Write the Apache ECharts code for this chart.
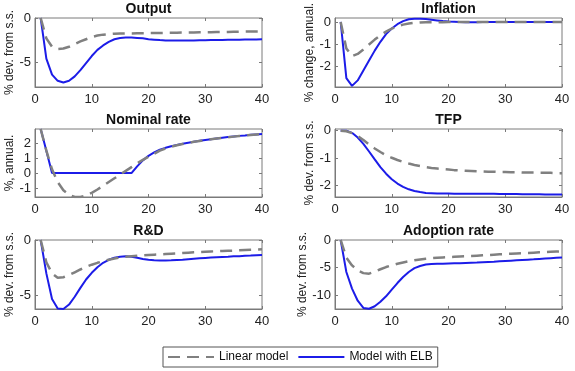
<!DOCTYPE html>
<html><head><meta charset="utf-8">
<script src="https://cdn.jsdelivr.net/npm/echarts@6/dist/echarts.min.js"></script>
<style>html,body{margin:0;padding:0;background:#fff}#c{width:575px;height:371px}</style>
</head><body><div id="c"></div>
<script>
const periods = [1,2,3,4,5,6,7,8,9,10,11,12,13,14,15,16,17,18,19,20,21,22,23,24,25,26,27,28,29,30,31,32,33,34,35,36,37,38,39,40];
const panelTitles = ['Output','Inflation','Nominal rate','TFP','R&D','Adoption rate'];
const yNames = ['% dev. from s.s.','% change, annual.','%, annual.','% dev. from s.s.','% dev. from s.s.','% dev. from s.s.'];
const seriesNames = ['Linear model','Model with ELB'];
const xTickValues = [0,10,20,30,40];
const yTickValues = [[-5,0],[-2,-1,0],[-1,0,1,2],[-2,-1,0],[-5,0],[-10,-5,0]];
const yMins = [-7.8,-2.95,-1.6,-2.42,-6.2,-12.5];
const yMaxs = [0,0.18,2.95,0.06,0,0];

const outputLinear = [0,-2.3,-3.25,-3.5,-3.45,-3.25,-2.95,-2.65,-2.4,-2.15,-1.98,-1.88,-1.82,-1.78,-1.76,-1.75,-1.74,-1.73,-1.72,-1.71,-1.7,-1.69,-1.68,-1.67,-1.66,-1.65,-1.64,-1.63,-1.62,-1.61,-1.6,-1.59,-1.58,-1.57,-1.56,-1.55,-1.54,-1.53,-1.52,-1.51];
const outputELB = [0,-4.6,-6.4,-7.1,-7.3,-7.1,-6.6,-5.9,-5.1,-4.3,-3.6,-3.1,-2.7,-2.4,-2.25,-2.2,-2.2,-2.25,-2.3,-2.4,-2.45,-2.5,-2.53,-2.55,-2.55,-2.55,-2.54,-2.53,-2.52,-2.51,-2.5,-2.49,-2.48,-2.47,-2.46,-2.45,-2.44,-2.43,-2.42,-2.41];
const inflationLinear = [0,-1.2,-1.55,-1.45,-1.25,-1.02,-0.8,-0.6,-0.44,-0.3,-0.2,-0.12,-0.07,-0.04,-0.02,-0.01,-0.01,-0.01,-0.01,0,0,0,0,0,0,0,0,0,0,0,0,0,0,0,0,0,0,0,0,0];
const inflationELB = [0,-2.55,-2.9,-2.65,-2.2,-1.75,-1.3,-0.9,-0.55,-0.3,-0.1,0.04,0.12,0.15,0.15,0.13,0.1,0.07,0.04,0.02,0.01,0,-0.01,-0.01,-0.01,0,0,0,0,0,0,0,0,0,0,0,0,0,0,0];
const nominalLinear = [2.95,1.5,0.25,-0.6,-1.15,-1.45,-1.6,-1.6,-1.5,-1.32,-1.1,-0.85,-0.6,-0.35,-0.1,0.15,0.4,0.65,0.88,1.1,1.3,1.5,1.65,1.77,1.86,1.94,2.02,2.09,2.15,2.21,2.26,2.31,2.36,2.4,2.44,2.48,2.51,2.55,2.58,2.61];
const nominalELB = [2.95,1.5,0,0,0,0,0,0,0,0,0,0,0,0,0,0,0,0.45,0.85,1.15,1.38,1.56,1.69,1.8,1.88,1.96,2.03,2.1,2.16,2.22,2.27,2.32,2.37,2.41,2.45,2.49,2.52,2.56,2.59,2.62];
const tfpLinear = [0,-0.02,-0.09,-0.2,-0.34,-0.5,-0.65,-0.78,-0.9,-0.99,-1.07,-1.14,-1.2,-1.25,-1.29,-1.33,-1.36,-1.38,-1.4,-1.42,-1.44,-1.45,-1.46,-1.47,-1.48,-1.49,-1.5,-1.5,-1.51,-1.51,-1.52,-1.52,-1.53,-1.53,-1.53,-1.54,-1.54,-1.54,-1.55,-1.55];
const tfpELB = [0,0,-0.08,-0.25,-0.48,-0.76,-1.05,-1.33,-1.57,-1.77,-1.93,-2.05,-2.14,-2.2,-2.24,-2.27,-2.28,-2.29,-2.29,-2.29,-2.3,-2.3,-2.3,-2.3,-2.3,-2.3,-2.3,-2.3,-2.31,-2.31,-2.31,-2.31,-2.32,-2.32,-2.32,-2.32,-2.33,-2.33,-2.33,-2.33];
const rdLinear = [0,-2.0,-3.0,-3.4,-3.35,-3.15,-2.9,-2.65,-2.42,-2.22,-2.05,-1.9,-1.77,-1.66,-1.57,-1.5,-1.45,-1.41,-1.38,-1.35,-1.32,-1.29,-1.26,-1.23,-1.2,-1.17,-1.14,-1.11,-1.08,-1.05,-1.03,-1.01,-0.99,-0.97,-0.95,-0.93,-0.9,-0.88,-0.86,-0.84];
const rdELB = [0,-3.0,-5.3,-6.15,-6.2,-5.8,-5.1,-4.3,-3.55,-2.95,-2.45,-2.05,-1.78,-1.6,-1.5,-1.45,-1.5,-1.6,-1.7,-1.78,-1.82,-1.84,-1.84,-1.83,-1.8,-1.77,-1.73,-1.69,-1.65,-1.61,-1.58,-1.55,-1.52,-1.5,-1.47,-1.45,-1.42,-1.4,-1.37,-1.35];
const adoptionLinear = [0,-3.2,-4.6,-5.5,-6.0,-6.1,-5.75,-5.3,-4.9,-4.58,-4.3,-4.06,-3.86,-3.68,-3.52,-3.4,-3.3,-3.22,-3.15,-3.1,-3.05,-3.0,-2.95,-2.9,-2.84,-2.78,-2.72,-2.66,-2.6,-2.54,-2.49,-2.44,-2.39,-2.34,-2.29,-2.24,-2.19,-2.14,-2.09,-2.04];
const adoptionELB = [0,-5.8,-8.8,-11.0,-12.3,-12.45,-12.0,-11.2,-10.2,-9.0,-7.8,-6.7,-5.8,-5.1,-4.7,-4.45,-4.35,-4.3,-4.28,-4.25,-4.22,-4.19,-4.15,-4.11,-4.07,-4.02,-3.97,-3.92,-3.86,-3.8,-3.74,-3.68,-3.62,-3.56,-3.5,-3.43,-3.36,-3.29,-3.22,-3.15];

const linearData = [outputLinear,inflationLinear,nominalLinear,tfpLinear,rdLinear,adoptionLinear];
const elbData = [outputELB,inflationELB,nominalELB,tfpELB,rdELB,adoptionELB];

const FONT = 'Liberation Sans';
const gLeft = [35,335,35,335,35,335];
const gTop = [18,18,129,129,240,240];
const gHeight = [69,69,68,68,69,69];
const gWidth = 227;
const nameGaps = [14,17,14,17,14,23];
const BOX = '#7a7a7a';
const BLUE = '#1c1ce8';
const GRAY = '#808080';

const grid=[], xAxis=[], yAxis=[], series=[], title=[];
for (let i=0;i<6;i++){
  grid.push({left:gLeft[i], top:gTop[i], width:gWidth, height:gHeight[i], show:true, borderColor:BOX, borderWidth:1, backgroundColor:'#fff', containLabel:false});
  title.push({text:panelTitles[i], left:gLeft[i]+gWidth/2, top:gTop[i]-16, textAlign:'center', padding:0,
    textStyle:{fontFamily:FONT, fontSize:14, fontWeight:'bold', color:'#111'}});
  xAxis.push({type:'value', gridIndex:i, min:0, max:40, interval:10,
    axisLine:{show:true, onZero:false, lineStyle:{color:BOX}},
    axisTick:{show:true, inside:true, length:3, lineStyle:{color:BOX}},
    axisLabel:{fontFamily:FONT, fontSize:13, color:'#222', margin:6, customValues:xTickValues},
    splitLine:{show:false}});
  yAxis.push({type:'value', gridIndex:i, min:yMins[i], max:yMaxs[i],
    name:yNames[i], nameLocation:'middle', nameRotate:90, nameGap:nameGaps[i],
    nameTextStyle:{fontFamily:FONT, fontSize:12, color:'#222'},
    axisLine:{show:true, onZero:false, lineStyle:{color:BOX}},
    axisTick:{show:true, inside:true, length:3, customValues:yTickValues[i], lineStyle:{color:BOX}},
    axisLabel:{fontFamily:FONT, fontSize:13, color:'#222', margin:4, customValues:yTickValues[i]},
    splitLine:{show:false}});
}
// mirrored tick marks on top and right edges (box style)
for (let i=0;i<6;i++){
  xAxis.push({type:'value', gridIndex:i, position:'top', min:0, max:40, interval:10,
    axisLine:{show:false, onZero:false}, axisTick:{show:true, inside:true, length:3, lineStyle:{color:BOX}},
    axisLabel:{show:false}, splitLine:{show:false}});
  yAxis.push({type:'value', gridIndex:i, position:'right', min:yMins[i], max:yMaxs[i],
    axisLine:{show:false, onZero:false}, axisTick:{show:true, inside:true, length:3, customValues:yTickValues[i], lineStyle:{color:BOX}},
    axisLabel:{show:false, customValues:yTickValues[i]}, splitLine:{show:false}});
}
for (let i=0;i<6;i++){
  series.push({name:seriesNames[1], type:'line', xAxisIndex:i, yAxisIndex:i, symbol:'none', z:2,
    lineStyle:{color:BLUE, width:2}, itemStyle:{color:BLUE},
    data:periods.map((p,k)=>[p, elbData[i][k]])});
  series.push({name:seriesNames[0], type:'line', xAxisIndex:i, yAxisIndex:i, symbol:'none', z:3,
    lineStyle:{color:GRAY, width:2.5, type:[12,7]}, itemStyle:{color:GRAY},
    data:periods.map((p,k)=>[p, linearData[i][k]])});
}

const chart = echarts.init(document.getElementById('c'), null, {renderer:'canvas'});
chart.setOption({
  animation:false,
  backgroundColor:'#fff',
  textStyle:{fontFamily:FONT},
  title, grid, xAxis, yAxis, series,
  legend:{data:seriesNames, left:163, top:347, orient:'horizontal', padding:[4,5,4,4], itemGap:9,
    itemWidth:46, itemHeight:12, borderColor:'#555', borderWidth:1, backgroundColor:'#fff',
    itemStyle:{opacity:0},
    textStyle:{fontFamily:FONT, fontSize:12, color:'#111'}}
});
</script></body></html>
